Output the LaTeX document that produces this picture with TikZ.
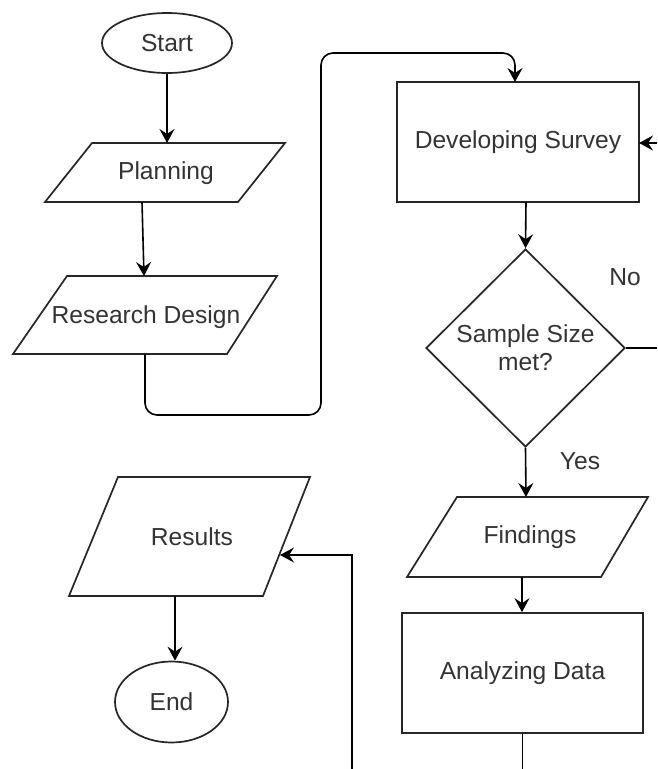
\documentclass[tikz,border=0pt]{standalone}
\usepackage{fontspec}
\setmainfont{Liberation Sans}
\usetikzlibrary{shapes.geometric,arrows.meta}
\begin{document}
\begin{tikzpicture}[x=1pt,y=-1pt,
  every node/.style={font=\fontsize{24.6}{28}\selectfont, text=black!80},
  shp/.style={draw=black!85, line width=1.7pt},
  term/.style={shp, ellipse, inner sep=0pt},
  proc/.style={shp, rectangle, inner sep=0pt},
  dec/.style={shp, diamond, inner sep=0pt, align=center},
  conn/.style={draw=black, line width=1.6pt, -{Stealth[length=14pt,width=15pt,inset=5pt]}},
  plain/.style={draw=black, line width=1.6pt},
  lbl/.style={inner sep=0pt}
]
\useasboundingbox (0,0) rectangle (657,769);

% Start
\node[term, minimum width=130pt, minimum height=60pt] (start) at (167,43) {Start};

% Planning parallelogram
\coordinate (p1) at (92,143); \coordinate (p2) at (285,143);
\coordinate (p3) at (238,202); \coordinate (p4) at (45,202);
\draw[shp] (p1) -- (p2) -- (p3) -- (p4) -- cycle;
\node[lbl] (plan) at (166,173) {Planning};
\coordinate (planT) at (167,143);
\coordinate (planB) at (142,202);

% Research Design parallelogram
\coordinate (r1) at (67,276); \coordinate (r2) at (277,276);
\coordinate (r3) at (227,354); \coordinate (r4) at (13,354);
\draw[shp] (r1) -- (r2) -- (r3) -- (r4) -- cycle;
\node[lbl] (rd) at (146,317) {Research Design};
\coordinate (rdT) at (144,276);
\coordinate (rdB) at (145,354);

% Developing Survey
\node[proc, minimum width=242pt, minimum height=120pt] (ds) at (518,142) {Developing Survey};
\coordinate (dsT) at (515,82);
\coordinate (dsB) at (526,202);
\coordinate (inR) at (657,143);
\coordinate (dsR) at (639,143);

% Decision
\node[dec, minimum width=199pt, minimum height=198pt] (dec) at (525.5,348) {Sample Size\\met?};
\coordinate (noR) at (657,348);
\node[lbl] (no) at (625,277) {No};
\node[lbl] (yes) at (580,461) {Yes};

% Findings parallelogram
\coordinate (f1) at (457,497); \coordinate (f2) at (648,497);
\coordinate (f3) at (601,577); \coordinate (f4) at (407,577);
\draw[shp] (f1) -- (f2) -- (f3) -- (f4) -- cycle;
\node[lbl] (find) at (530,537) {Findings};
\coordinate (fT) at (526,497);
\coordinate (fB) at (522,577);

% Analyzing Data
\node[proc, minimum width=241pt, minimum height=120pt] (ad) at (522.5,673) {Analyzing Data};
\coordinate (adOut) at (522.5,769);

% Results parallelogram
\coordinate (s1) at (118,477); \coordinate (s2) at (310,477);
\coordinate (s3) at (263,596); \coordinate (s4) at (69,596);
\draw[shp] (s1) -- (s2) -- (s3) -- (s4) -- cycle;
\node[lbl] (res) at (192,537) {Results};
\coordinate (resR) at (280,555);
\coordinate (resB) at (175,596);
\coordinate (loopIn) at (352,769);

% End
\node[term, minimum width=113pt, minimum height=81pt] (end) at (171.5,702) {End};

% Connectors
\draw[conn] (start.south) -- (planT);
\draw[conn] (planB) -- (rdT);
\draw[conn, rounded corners=12pt] (rdB) -- (145,415) -- (321,415) -- (321,53) -- (515,53) -- (dsT);
\draw[conn] (inR) -- (dsR);
\draw[conn] (dsB) -- (dec.north);
\draw[plain] (dec.east) -- (noR);
\draw[conn] (dec.south) -- (fT);
\draw[conn] (fB) -- (ad.north -| fB);
\draw[plain] (ad.south) -- (adOut);
\draw[conn] (loopIn) -- (352,555) -- (resR);
\draw[conn] (resB) -- (end.north -| resB);
\end{tikzpicture}
\end{document}
